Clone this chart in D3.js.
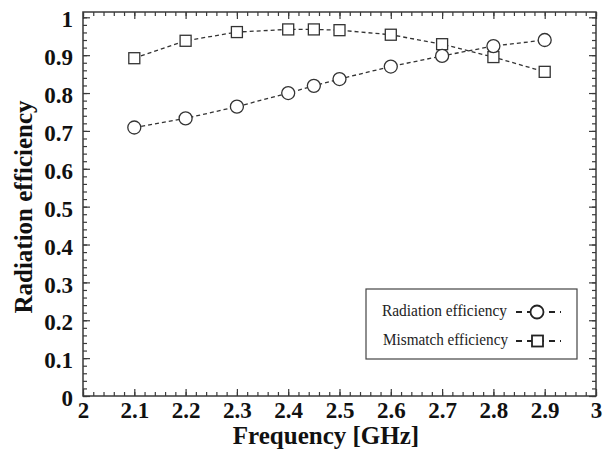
<!DOCTYPE html>
<html>
<head>
<meta charset="utf-8">
<script src="https://cdn.jsdelivr.net/npm/d3@7"></script>
<style>
  body { margin: 0; background: #fff; }
  svg { display: block; }
  svg text { font-family: 'Liberation Serif', 'Times New Roman', Times, serif; }
</style>
</head>
<body>
<div id="chart"></div>
<script>
// values
var freqs = [2.1, 2.2, 2.3, 2.4, 2.45, 2.5, 2.6, 2.7, 2.8, 2.9];
var radEff = [0.709, 0.733, 0.764, 0.800, 0.819, 0.837, 0.870, 0.898, 0.924, 0.940];
var misEff = [0.892, 0.938, 0.961, 0.968, 0.968, 0.966, 0.954, 0.929, 0.895, 0.856];
var xTicks = [2, 2.1, 2.2, 2.3, 2.4, 2.5, 2.6, 2.7, 2.8, 2.9, 3];
var yTicks = [0, 0.1, 0.2, 0.3, 0.4, 0.5, 0.6, 0.7, 0.8, 0.9, 1];
var legendNames = ["Radiation efficiency", "Mismatch efficiency"];

var W = 606, H = 452;
var margin = {left: 83, right: 10, top: 12, bottom: 56};
var serif = "'Liberation Serif', 'Times New Roman', Times, serif";

var svg = d3.select("#chart").append("svg")
  .attr("width", W).attr("height", H);

var x = d3.scaleLinear().domain([2, 3]).range([margin.left, W - margin.right]);
var y = d3.scaleLinear().domain([0, 1.014]).range([H - margin.bottom, margin.top]);

var minorX = d3.range(0, 51).map(function(i){ return 2 + i*0.02; });
var minorY = d3.range(0, 51).map(function(i){ return i*0.02; });

var fmt = function(d){ return String(+d.toFixed(1)); };
var axisCol = "#3a3a3a";

function drawAxis(axis, tx, ty) {
  var g = svg.append("g").attr("transform", "translate(" + tx + "," + ty + ")").call(axis);
  g.select(".domain").remove();
  g.attr("font-family", serif);
  g.selectAll(".tick line").attr("stroke", axisCol).attr("stroke-width", 1.2);
  return g;
}

// ticks pointing inward on all four sides
var bottom = H - margin.bottom, right = W - margin.right;
drawAxis(d3.axisBottom(x).tickValues(minorX).tickSize(-4).tickFormat(""), 0, bottom);
drawAxis(d3.axisTop(x).tickValues(minorX).tickSize(-4).tickFormat(""), 0, margin.top);
drawAxis(d3.axisLeft(y).tickValues(minorY).tickSize(-4).tickFormat(""), margin.left, 0);
drawAxis(d3.axisRight(y).tickValues(minorY).tickSize(-4).tickFormat(""), right, 0);
drawAxis(d3.axisTop(x).tickValues(xTicks).tickSize(-7).tickFormat(""), 0, margin.top);
drawAxis(d3.axisRight(y).tickValues(yTicks).tickSize(-7).tickFormat(""), right, 0);

var xg = drawAxis(d3.axisBottom(x).tickValues(xTicks).tickSize(-7).tickFormat(fmt), 0, bottom);
var yg = drawAxis(d3.axisLeft(y).tickValues(yTicks).tickSize(-7).tickPadding(10).tickFormat(fmt), margin.left, 0);

xg.selectAll("text")
  .attr("font-weight", "bold").attr("font-size", "23px").attr("fill", "#111")
  .attr("y", 6);
yg.selectAll("text")
  .attr("font-weight", "bold").attr("font-size", "23px").attr("fill", "#111")
  .attr("dy", "0.42em");

// frame
svg.append("rect")
  .attr("x", margin.left).attr("y", margin.top)
  .attr("width", right - margin.left).attr("height", bottom - margin.top)
  .attr("fill", "none").attr("stroke", axisCol).attr("stroke-width", 1.5);

// axis titles
svg.append("text")
  .attr("x", 326).attr("y", 444)
  .attr("text-anchor", "middle")
  .attr("font-weight", "bold").attr("font-size", "25px").attr("fill", "#111")
  .text("Frequency [GHz]");

svg.append("text")
  .attr("transform", "translate(32,207) rotate(-90)")
  .attr("text-anchor", "middle")
  .attr("font-weight", "bold").attr("font-size", "25px").attr("fill", "#111")
  .text("Radiation efficiency");

var line = d3.line()
  .x(function(d){ return x(d[0]); })
  .y(function(d){ return y(d[1]); });

var radPts = freqs.map(function(f, i){ return [f, radEff[i]]; });
var misPts = freqs.map(function(f, i){ return [f, misEff[i]]; });

[radPts, misPts].forEach(function(pts){
  svg.append("path")
    .attr("d", line(pts))
    .attr("fill", "none")
    .attr("stroke", "#333")
    .attr("stroke-width", 1.3)
    .attr("stroke-dasharray", "4,3");
});

svg.selectAll("rect.sq")
  .data(misPts)
  .enter()
  .append("rect")
  .attr("class", "sq")
  .attr("x", function(d){ return x(d[0]) - 5.5; })
  .attr("y", function(d){ return y(d[1]) - 5.5; })
  .attr("width", 11).attr("height", 11)
  .attr("fill", "#fff").attr("stroke", "#333").attr("stroke-width", 1.3);

svg.selectAll("circle.ci")
  .data(radPts)
  .enter()
  .append("circle")
  .attr("class", "ci")
  .attr("cx", function(d){ return x(d[0]); })
  .attr("cy", function(d){ return y(d[1]); })
  .attr("r", 6.5)
  .attr("fill", "#fff").attr("stroke", "#333").attr("stroke-width", 1.3);

// legend
var leg = svg.append("g");
leg.append("rect")
  .attr("x", 366).attr("y", 289).attr("width", 211).attr("height", 70)
  .attr("fill", "#fff").attr("stroke", "#444").attr("stroke-width", 1.2);

var rowsY = [312, 341];
legendNames.forEach(function(name, i){
  var ly = rowsY[i];
  leg.append("text")
    .attr("x", 382 + i).attr("y", ly + 4)
    .attr("font-size", "17px").attr("fill", "#222")
    .attr("textLength", 125).attr("lengthAdjust", "spacingAndGlyphs")
    .text(name);
  leg.append("line")
    .attr("x1", 516).attr("x2", 561).attr("y1", ly).attr("y2", ly)
    .attr("stroke", "#222").attr("stroke-width", 1.8)
    .attr("stroke-dasharray", "6,5");
  if (i === 0) {
    leg.append("circle").attr("cx", 537).attr("cy", ly).attr("r", 6.5)
      .attr("fill", "#fff").attr("stroke", "#222").attr("stroke-width", 1.8);
  } else {
    leg.append("rect").attr("x", 532).attr("y", ly - 5.5).attr("width", 11).attr("height", 11)
      .attr("fill", "#fff").attr("stroke", "#222").attr("stroke-width", 1.8);
  }
});
</script>
</body>
</html>
